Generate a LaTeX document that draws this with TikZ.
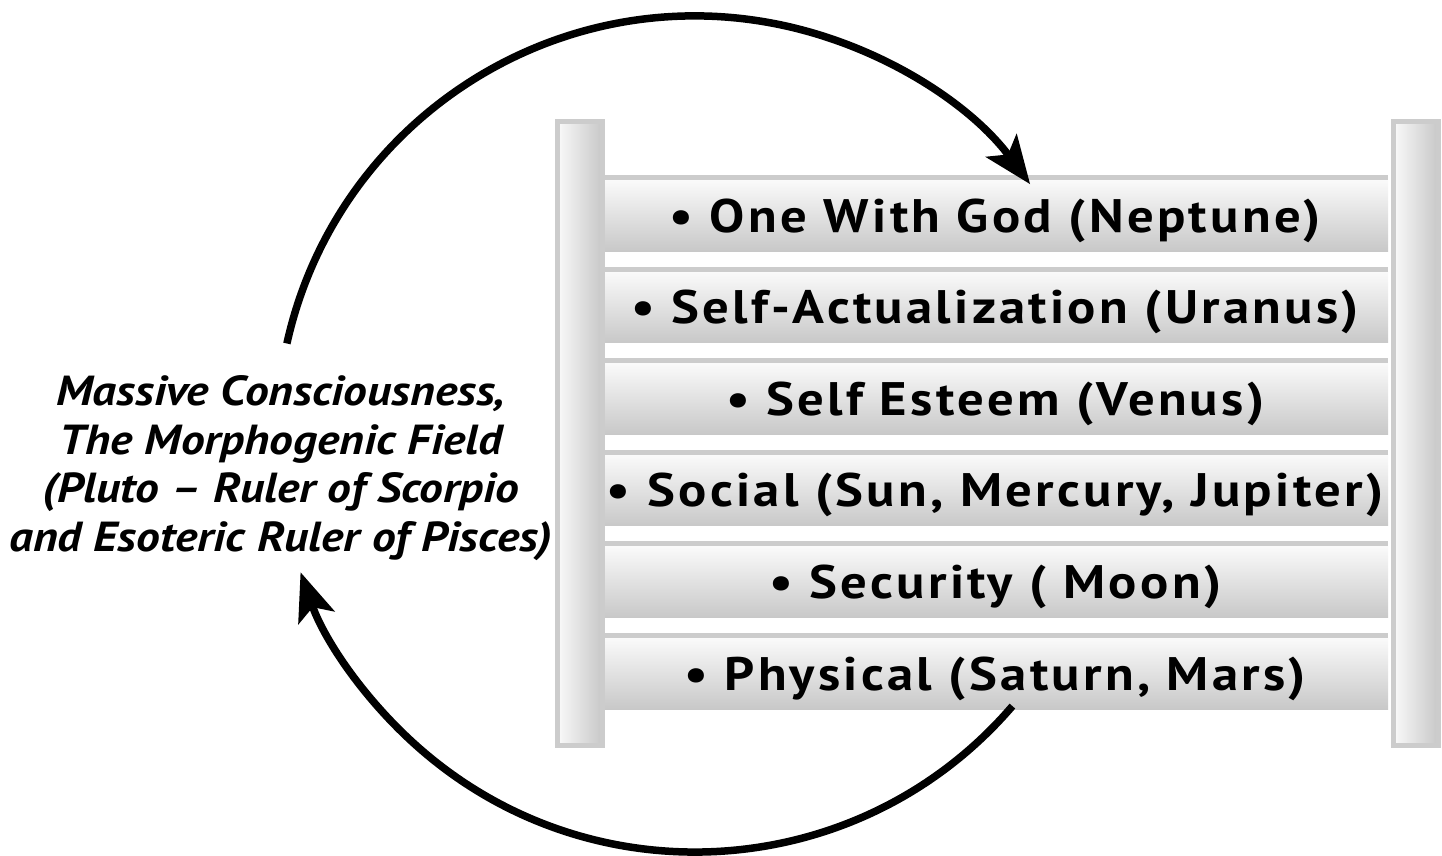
\documentclass[tikz,border=0pt]{standalone}
\usepackage{fontspec}
\setmainfont{PT Sans}
\newfontfamily\rungfont[FakeStretch=1.12, LetterSpace=7]{PT Sans}
\newfontfamily\sidefont[FakeStretch=1.13]{PT Sans}
\usetikzlibrary{arrows.meta}
\definecolor{edgegray}{HTML}{CCCCCC}
\definecolor{paleshade}{HTML}{FAFAFA}
\definecolor{darkshade}{HTML}{C8C8C8}
\begin{document}
\begin{tikzpicture}[x=1pt,y=1pt,
  railbox/.style={draw=edgegray, line width=5pt, left color=paleshade, right color=darkshade,
    minimum width=45pt, minimum height=624pt, inner sep=0pt, anchor=north west},
  rungbox/.style={top color=paleshade, bottom color=darkshade, minimum width=786pt,
    minimum height=71pt, inner sep=0pt, anchor=north west,
    font=\rungfont\bfseries\fontsize{47}{50}\selectfont, text height=33pt, text depth=0pt},
  rungedge/.style={fill=edgegray},
  sidetext/.style={align=center, font=\sidefont\bfseries\itshape\fontsize{42}{48.5}\selectfont},
  cycle arrow/.style={line width=7.5pt, -{Stealth[length=48pt, width=38pt, inset=11pt]}}
]
\useasboundingbox (0,0) rectangle (1442,856);
% rungs
\node[rungbox] (r1) at (602,676) {• One With God (Neptune)};
\node[rungbox] (r2) at (602,584.4) {• Self-Actualization (Uranus)};
\node[rungbox] (r3) at (602,492.8) {• Self Esteem (Venus)};
\node[rungbox] (r4) at (602,401.2) {• Social (Sun, Mercury, Jupiter)};
\node[rungbox] (r5) at (602,309.6) {• Security ( Moon)};
\node[rungbox] (r6) at (602,218) {• Physical (Saturn, Mars)};
\foreach \r in {r1,r2,r3,r4,r5,r6}
  \fill[rungedge] (\r.north west) rectangle ([yshift=5pt]\r.north east);
% rails
\node[railbox] (leftrail) at (554.5,736.5) {};
\node[railbox] (rightrail) at (1390.5,736.5) {};
% side text
\node[sidetext] (field) at (281,388) {Massive Consciousness,\\The Morphogenic Field\\(Pluto – Ruler of Scorpio\\and Esoteric Ruler of Pisces)};
% cycle arrows
\coordinate (topstart) at (286.9,512.5);
\coordinate (botstart) at (1012.4,149.9);
\draw[cycle arrow] (topstart) arc[start angle=167.5, end angle=36.7, radius=418];
\draw[cycle arrow] (botstart) arc[start angle=-40.6, end angle=-160.7, radius=418];
\end{tikzpicture}
\end{document}
